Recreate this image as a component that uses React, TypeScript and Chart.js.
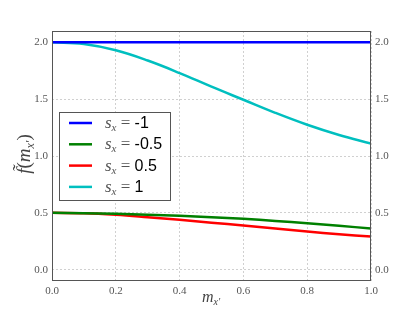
import React, { useEffect, useRef } from "react";
import { Chart, registerables } from "chart.js";

Chart.register(...registerables);

const xValues = [0, 0.1, 0.2, 0.3, 0.4, 0.5, 0.6, 0.7, 0.8, 0.9, 1.0];
const seriesLabels = ["-1", "-0.5", "0.5", "1"];
const seriesColors = ["#0000ff", "#008000", "#ff0000", "#00bfbf"];
const sMinus1 = [2.0, 2.0, 2.0, 2.0, 2.0, 2.0, 2.0, 2.0, 2.0, 2.0, 2.0];
const sMinusHalf = [0.5, 0.497, 0.491, 0.483, 0.474, 0.461, 0.447, 0.429, 0.409, 0.386, 0.362];
const sHalf = [0.5, 0.496, 0.482, 0.461, 0.438, 0.413, 0.388, 0.362, 0.335, 0.312, 0.291];
const sOne = [2.0, 1.985, 1.93, 1.84, 1.73, 1.61, 1.495, 1.38, 1.275, 1.185, 1.11];
const seriesValues = [sMinus1, sMinusHalf, sHalf, sOne];
const yTicks = [0.0, 0.5, 1.0, 1.5, 2.0];
const xTicks = [0.0, 0.2, 0.4, 0.6, 0.8, 1.0];

const SERIF = "'Liberation Serif', 'DejaVu Serif', serif";
const SANS = "'Liberation Sans', Arial, sans-serif";

type Part = { text: string; font: string; dy?: number; color?: string };

function drawParts(ctx: CanvasRenderingContext2D, parts: Part[], x: number, y: number, align: "left" | "center") {
  let total = 0;
  const widths = parts.map((p) => {
    ctx.font = p.font;
    const w = ctx.measureText(p.text).width;
    total += w;
    return w;
  });
  let cx = align === "center" ? x - total / 2 : x;
  ctx.textBaseline = "alphabetic";
  ctx.textAlign = "left";
  parts.forEach((p, i) => {
    ctx.font = p.font;
    ctx.fillStyle = p.color || "#333";
    ctx.fillText(p.text, cx, y + (p.dy || 0));
    cx += widths[i];
  });
}

const decorPlugin = {
  id: "decor",
  afterDatasetsDraw(chart: any) {
    const ctx: CanvasRenderingContext2D = chart.ctx;
    const a = chart.chartArea;
    ctx.save();
    // frame
    ctx.strokeStyle = "#555";
    ctx.lineWidth = 1;
    ctx.strokeRect(a.left + 0.5, a.top + 0.5, a.right - a.left - 1, a.bottom - a.top - 1);

    // legend
    const lx = 59, ly = 112, lw = 111, lh = 88;
    ctx.fillStyle = "#fff";
    ctx.fillRect(lx, ly, lw, lh);
    ctx.strokeStyle = "#555";
    ctx.strokeRect(lx + 0.5, ly + 0.5, lw, lh);
    chart.data.datasets.forEach((ds: any, i: number) => {
      const yc = ly + 11 + i * 21.3;
      ctx.strokeStyle = ds.borderColor;
      ctx.lineWidth = 2.5;
      ctx.beginPath();
      ctx.moveTo(69, yc);
      ctx.lineTo(92, yc);
      ctx.stroke();
      drawParts(
        ctx,
        [
          { text: "s", font: `italic 17px ${SERIF}`, color: "#555" },
          { text: "x", font: `italic 11px ${SERIF}`, dy: 3, color: "#555" },
          { text: " = ", font: `17px ${SERIF}`, color: "#555" },
          { text: seriesLabels[i], font: `16px ${SANS}`, color: "#000" },
        ],
        105,
        yc + 5,
        "left"
      );
    });

    // x title
    drawParts(
      ctx,
      [
        { text: "m", font: `italic 16px ${SERIF}`, color: "#444" },
        { text: "x′", font: `italic 10px ${SERIF}`, dy: 3, color: "#444" },
      ],
      211,
      302,
      "center"
    );

    // y title
    ctx.translate(30, 154);
    ctx.rotate(-Math.PI / 2);
    drawParts(
      ctx,
      [
        { text: "f̃", font: `italic 19px ${SERIF}`, color: "#444" },
        { text: "(", font: `19px ${SERIF}`, color: "#444" },
        { text: "m", font: `italic 19px ${SERIF}`, color: "#444" },
        { text: "x′", font: `italic 12px ${SERIF}`, dy: 4, color: "#444" },
        { text: ")", font: `19px ${SERIF}`, color: "#444" },
      ],
      0,
      0,
      "center"
    );
    ctx.restore();
  },
};

export default function App() {
  const ref = useRef<HTMLCanvasElement | null>(null);
  useEffect(() => {
    if (!ref.current) return;
    const tickFont = { family: SERIF, size: 11 };
    const grid = { color: "#d0d0d0", drawTicks: false, lineWidth: 1 };
    const chart = new Chart(ref.current, {
      type: "line",
      data: {
        datasets: seriesValues.map((vals, i) => ({
          label: "s_x = " + seriesLabels[i],
          data: xValues.map((x, j) => ({ x, y: vals[j] })),
          borderColor: seriesColors[i],
          backgroundColor: seriesColors[i],
          borderWidth: 2.5,
          pointRadius: 0,
          tension: 0.4,
          fill: false,
        })),
      },
      options: {
        animation: false,
        responsive: false,
        maintainAspectRatio: false,
        layout: { padding: { top: 31, left: 0, right: 0, bottom: 0 } },
        plugins: { legend: { display: false }, tooltip: { enabled: false } },
        scales: {
          x: {
            type: "linear",
            min: 0,
            max: 1,
            afterBuildTicks: (s: any) => {
              s.ticks = xTicks.map((v) => ({ value: v }));
            },
            afterFit: (s: any) => {
              s.height = 32;
            },
            ticks: { font: tickFont, color: "#555", padding: 4, callback: (v: any) => Number(v).toFixed(1) },
            grid: grid as any,
            border: { display: false, dash: [2, 2] },
          },
          y: {
            type: "linear",
            min: -0.1,
            max: 2.1,
            afterBuildTicks: (s: any) => {
              s.ticks = yTicks.map((v) => ({ value: v }));
            },
            afterFit: (s: any) => {
              s.width = 52;
            },
            ticks: { font: tickFont, color: "#555", padding: 4, callback: (v: any) => Number(v).toFixed(1) },
            grid: grid as any,
            border: { display: false, dash: [2, 2] },
          },
          y2: {
            type: "linear",
            position: "right",
            min: -0.1,
            max: 2.1,
            afterBuildTicks: (s: any) => {
              s.ticks = yTicks.map((v) => ({ value: v }));
            },
            afterFit: (s: any) => {
              s.width = 44;
            },
            ticks: { font: tickFont, color: "#555", padding: 4, callback: (v: any) => Number(v).toFixed(1) },
            grid: { display: false, drawTicks: false },
            border: { display: false },
          },
        },
      },
      plugins: [decorPlugin],
    } as any);
    return () => chart.destroy();
  }, []);
  return (
    <div style={{ position: "fixed", left: 0, top: 0, width: 415, height: 313, background: "#fff" }}>
      <canvas ref={ref} width={415} height={313} style={{ width: 415, height: 313, display: "block" }} />
    </div>
  );
}
